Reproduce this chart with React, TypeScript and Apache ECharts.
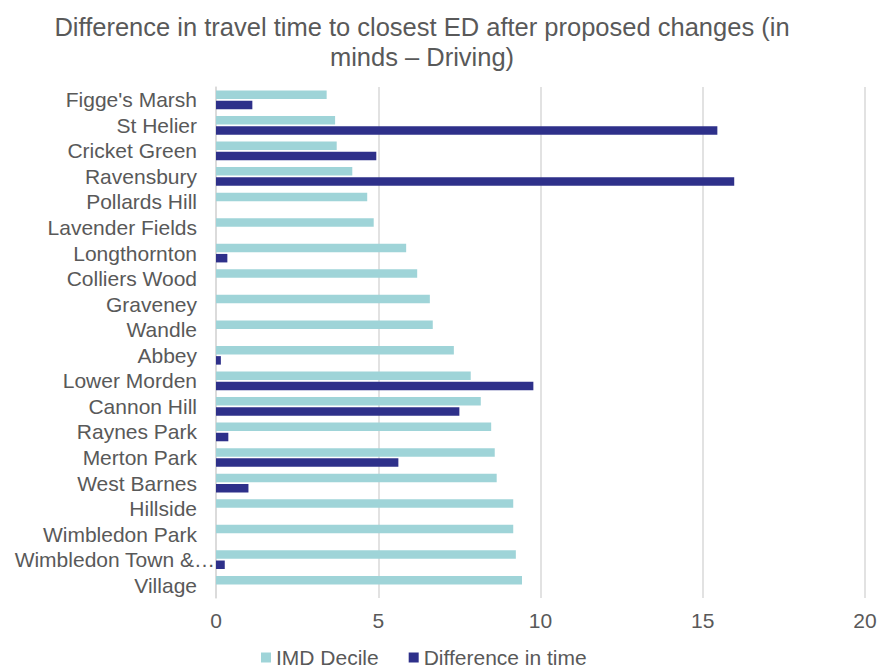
import React, { useEffect, useRef } from "react";
import * as echarts from "echarts";

const categories = [
  "Figge's Marsh",
  "St Helier",
  "Cricket Green",
  "Ravensbury",
  "Pollards Hill",
  "Lavender Fields",
  "Longthornton",
  "Colliers Wood",
  "Graveney",
  "Wandle",
  "Abbey",
  "Lower Morden",
  "Cannon Hill",
  "Raynes Park",
  "Merton Park",
  "West Barnes",
  "Hillside",
  "Wimbledon Park",
  "Wimbledon Town &…",
  "Village",
];

const imdDecile = [
  3.41, 3.67, 3.72, 4.2, 4.66, 4.86, 5.86, 6.2, 6.59, 6.68,
  7.33, 7.85, 8.16, 8.48, 8.59, 8.65, 9.16, 9.16, 9.24, 9.43,
];

const differenceInTime = [
  1.12, 15.45, 4.94, 15.97, 0, 0, 0.35, 0, 0, 0,
  0.15, 9.78, 7.5, 0.38, 5.62, 1.0, 0, 0, 0.27, 0,
];

const xTicks = { min: 0, max: 20, interval: 5 };

const titleText =
  "Difference in travel time to closest ED after proposed changes (in\nminds – Driving)";

const truncatedLabel = "Wimbledon Town &…";

const FONT = "'Liberation Sans', Arial, sans-serif";
const TEXT = "#595959";

export default function App() {
  const ref = useRef<HTMLDivElement>(null);
  useEffect(() => {
    if (!ref.current) return;
    const chart = echarts.init(ref.current, undefined, { renderer: "svg" });
    chart.setOption({
      animation: false,
      backgroundColor: "#ffffff",
      textStyle: { fontFamily: FONT },
      title: {
        text: titleText,
        left: 417,
        top: 7,
        textAlign: "center",
        textStyle: {
          fontFamily: FONT,
          fontSize: 25.5,
          fontWeight: "normal",
          color: TEXT,
          lineHeight: 30,
          align: "center",
        },
      },
      legend: {
        bottom: 1,
        left: 261,
        padding: 0,
        itemWidth: 10,
        itemHeight: 10,
        itemGap: 30,
        icon: "rect",
        textStyle: { fontFamily: FONT, fontSize: 21, color: TEXT },
        data: ["IMD Decile", "Difference in time"],
      },
      grid: {
        left: 216,
        right: 15,
        top: 87,
        bottom: 71,
        containLabel: false,
        outerBoundsMode: "none",
      },
      xAxis: {
        type: "value",
        min: xTicks.min,
        max: xTicks.max,
        interval: xTicks.interval,
        axisLine: { show: false },
        axisTick: { show: false },
        axisLabel: { fontFamily: FONT, fontSize: 21, color: TEXT, margin: 12 },
        splitLine: { show: true, lineStyle: { color: "#D9D9D9", width: 1.5 } },
      },
      yAxis: {
        type: "category",
        data: categories,
        inverse: true,
        axisLine: { show: true, lineStyle: { color: "#D9D9D9", width: 1.5 } },
        axisTick: { show: false },
        axisLabel: {
          fontFamily: FONT,
          fontSize: 21,
          color: TEXT,
          margin: 0,
          interval: 0,
          formatter: (v: string) => (v === truncatedLabel ? `{t|${v}}` : `{n|${v}}`),
          rich: {
            n: { fontFamily: FONT, fontSize: 21, color: TEXT, padding: [0, 19, 0, 0] },
            t: { fontFamily: FONT, fontSize: 21, color: TEXT, padding: [0, 1, 0, 0] },
          },
        },
        splitLine: { show: false },
      },
      series: [
        {
          name: "IMD Decile",
          type: "bar",
          data: imdDecile,
          barWidth: 8.5,
          barGap: "20%",
          itemStyle: { color: "#9FD4D8" },
        },
        {
          name: "Difference in time",
          type: "bar",
          data: differenceInTime,
          barWidth: 8.5,
          barGap: "20%",
          itemStyle: { color: "#2E308A" },
        },
      ],
    });
    return () => chart.dispose();
  }, []);
  return <div ref={ref} style={{ width: 880, height: 669, position: "absolute", left: 0, top: 0 }} />;
}
